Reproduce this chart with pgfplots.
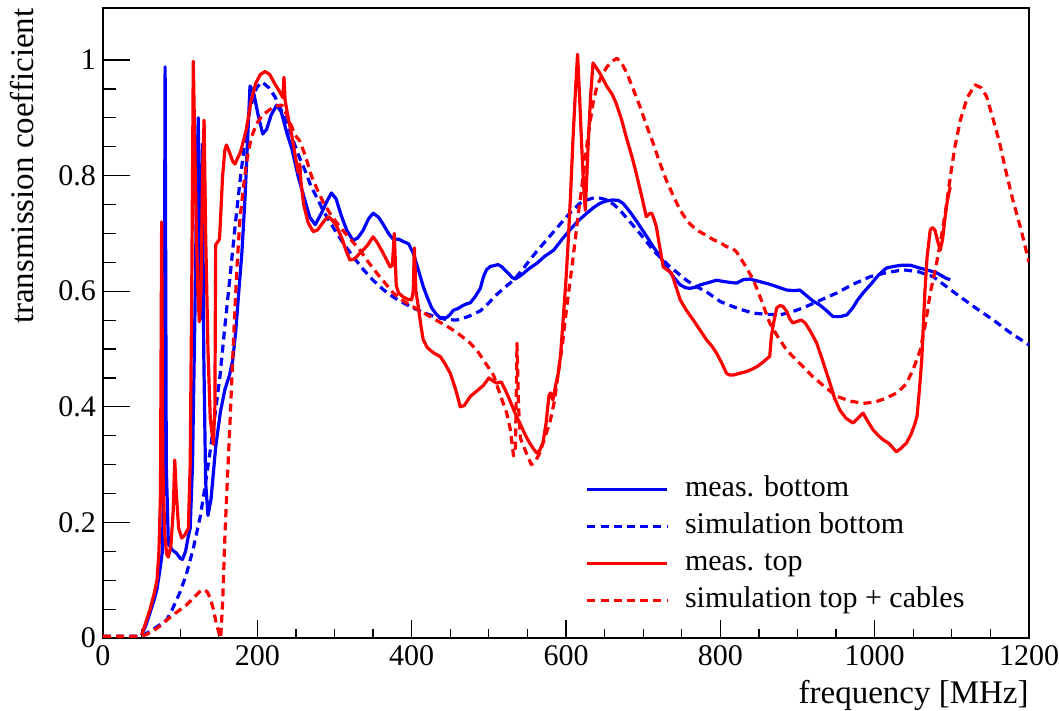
\documentclass[border=0pt]{standalone}
\usepackage{fontspec}
\setmainfont{Liberation Serif}
\usepackage{pgfplots}
\pgfplotsset{compat=1.18}
\begin{document}
\begin{tikzpicture}
\pgfplotsset{
  common/.style={width=463pt,height=315pt,scale only axis,
    xmin=0,xmax=1200,ymin=0,ymax=1.09,
    xtick distance=200, ytick distance=0.2,
    minor x tick num=3, minor y tick num=3,
    tick align=inside, tick pos=left,
    axis line style={line width=0.7pt},
    tick style={black,line width=0.6pt}},
}
\begin{axis}[common, hide x axis, yticklabels={}, major tick length=13.5pt, minor tick length=6.5pt]
\end{axis}
\begin{axis}[common, name=main,
  major tick length=9pt, minor tick length=4.5pt,
  ytick style={draw=none}, major y tick style={draw=none}, minor y tick style={draw=none},
  /pgf/number format/1000 sep={}, /pgf/number format/assume math mode=true,
  tick label style={font=\fontsize{15}{18}\selectfont},
  xlabel={frequency [MHz]}, ylabel={transmission coefficient},
  xlabel style={at={(axis description cs:1,0)}, anchor=base east, yshift=-32.5pt, inner sep=0pt, font=\fontsize{16.5}{19}\selectfont},
  ylabel style={at={(axis description cs:-0.0755,1)}, anchor=base east, inner sep=0pt, font=\fontsize{16.5}{19}\selectfont},
  legend cell align=left,
  legend style={draw=none, fill=none, at={(axis description cs:0.521,0.266)}, anchor=north west, inner sep=0pt,
    font=\fontsize{15}{18}\selectfont, nodes={text height=11pt, text depth=3.5pt, inner sep=2pt}},
  legend image code/.code={\draw[#1] (0pt,0pt) -- (40pt,0pt); \path (46pt,0pt);},
  every axis plot/.append style={line width=1.6pt, line join=round},
]
\addplot[blue] table {
x y
50 0.005
55 0.02
61 0.044
66 0.065
70 0.085
74 0.12
77 0.15
79 0.3
80.5 0.988
82 0.3
84.7 0.163
90 0.152
95 0.147
100 0.138
103 0.136
107 0.15
110 0.172
113 0.19
116 0.3
119 0.55
121.5 0.8
123.5 0.9
125.5 0.55
127.5 0.6
128.8 0.855
130.5 0.5
133 0.27
136 0.212
140 0.24
146 0.33
152 0.39
158 0.43
164 0.455
168 0.48
172 0.53
176 0.6
180 0.667
184 0.76
187 0.85
190.5 0.955
195 0.945
201 0.905
207 0.872
212 0.88
218 0.905
225 0.922
231 0.91
238 0.875
245 0.845
253 0.798
260 0.765
268 0.728
275 0.715
283 0.735
290 0.755
296 0.77
302 0.76
309 0.73
316 0.705
324 0.688
330 0.692
337 0.705
344 0.725
350 0.735
357 0.728
363 0.716
370 0.7
376 0.69
383 0.69
389 0.686
396 0.682
402 0.666
408 0.64
415 0.608
420 0.59
426 0.571
432 0.56
437 0.554
445 0.554
450 0.56
454 0.567
460 0.57
466 0.575
471 0.578
476 0.58
482 0.59
489 0.605
493 0.625
497 0.637
502 0.643
506 0.644
512 0.646
517 0.642
522 0.635
526 0.63
530 0.624
534 0.621
540 0.626
545 0.631
553 0.64
562 0.648
572 0.66
584 0.671
595 0.69
605 0.706
616 0.722
627 0.735
636 0.745
644 0.752
652 0.756
661 0.758
668 0.757
674 0.752
683 0.737
692 0.72
703 0.698
713 0.677
722 0.66
730 0.642
739 0.625
748 0.611
755 0.606
761 0.605
768 0.607
774 0.611
785 0.615
795 0.619
808 0.616
821 0.614
830 0.62
838 0.621
850 0.617
864 0.612
875 0.607
886 0.602
895 0.601
903 0.602
912 0.592
920 0.583
929 0.576
938 0.566
946 0.556
955 0.556
964 0.559
972 0.572
978 0.585
985 0.597
995 0.612
1005 0.628
1015 0.64
1025 0.643
1035 0.645
1046 0.645
1056 0.641
1067 0.637
1080 0.632
1093 0.622
1098 0.62
};
\addlegendentry{meas. bottom}
\addplot[blue, dash pattern=on 4pt off 2.6pt] table {
x y
0 0.003
50 0.003
55 0.007
65 0.015
75 0.024
82.5 0.031
90 0.05
100 0.08
108 0.11
117 0.155
126 0.21
132 0.26
138.7 0.322
145 0.385
151.6 0.453
158 0.54
164.6 0.625
171 0.71
177.5 0.79
184 0.86
190.5 0.916
199 0.952
206 0.962
215 0.952
223 0.936
232 0.91
240 0.885
248 0.855
255 0.83
263 0.805
270 0.78
278 0.76
285 0.74
294 0.72
303 0.70
313 0.68
324 0.66
337 0.638
350 0.619
363 0.603
376 0.59
389 0.58
402 0.571
417 0.562
432 0.555
445 0.551
458 0.55
473 0.556
489 0.566
500 0.58
510 0.594
521 0.607
532 0.619
543 0.636
553 0.654
564 0.672
575 0.689
586 0.706
597 0.723
607 0.738
618 0.752
627 0.758
635 0.761
644 0.761
653 0.758
662 0.75
670 0.74
681 0.723
692 0.706
703 0.688
713 0.671
724 0.656
735 0.642
746 0.63
756 0.619
769 0.608
782 0.599
800 0.582
817 0.573
830 0.567
843 0.562
860 0.56
877 0.559
892 0.564
907 0.571
929 0.584
951 0.597
972 0.612
994 0.625
1015 0.632
1037 0.637
1056 0.634
1076 0.625
1093 0.608
1111 0.59
1132 0.57
1154 0.55
1176 0.528
1200 0.507
};
\addlegendentry{simulation bottom}
\addplot[red] table {
x y
50 0.005
55 0.025
61 0.05
66 0.075
70 0.1
72.5 0.15
74.5 0.25
76 0.72
77.5 0.3
80 0.18
82.5 0.145
84.7 0.14
88 0.16
91 0.22
93 0.308
95 0.25
98 0.19
102 0.173
106 0.178
110.6 0.19
113 0.3
115 0.6
117 0.998
119 0.85
121 0.7
123 0.6
124.8 0.547
127 0.6
129 0.8
131 0.896
133 0.7
136 0.5
139 0.38
143 0.335
145 0.4
146 0.68
151 0.69
155 0.8
158 0.845
160 0.853
164 0.84
168 0.825
171 0.82
175 0.832
178 0.84
182 0.86
186 0.882
192 0.93
198 0.96
204 0.975
210 0.98
216 0.975
223 0.958
229 0.945
233 0.935
234.5 0.97
236 0.93
240 0.9
244.5 0.871
249 0.835
253 0.805
255 0.82
256.5 0.79
260 0.75
266 0.718
272.5 0.703
278 0.706
283 0.715
288 0.724
292 0.729
297 0.723
303 0.712
310 0.69
315 0.67
320 0.654
326 0.656
331 0.663
337 0.671
343 0.68
350 0.694
355 0.685
361 0.671
366 0.658
372 0.642
375 0.645
377.5 0.70
380 0.61
383 0.597
389 0.59
395 0.586
400 0.585
402 0.6
403.5 0.675
405.5 0.6
408.6 0.573
412 0.54
415 0.516
420 0.503
424 0.498
430 0.492
437 0.487
443 0.475
450 0.458
457 0.43
463 0.40
468 0.402
476 0.418
485 0.428
493 0.437
500 0.45
505 0.445
510 0.441
516 0.443
521 0.43
527 0.412
533 0.392
540 0.372
547 0.352
553 0.337
558 0.327
562 0.32
566 0.325
570 0.337
574 0.37
578 0.42
580 0.424
583 0.412
587 0.44
590 0.458
593 0.49
596 0.545
600 0.62
603 0.689
606 0.77
609 0.862
612 0.94
615 1.01
617.5 0.94
620 0.862
622.5 0.79
625 0.74
627 0.8
629 0.862
632 0.94
635 0.995
640 0.985
644 0.977
653 0.954
660 0.94
665 0.925
672 0.897
678 0.867
685 0.835
691 0.804
698 0.765
704 0.729
708 0.734
711 0.735
714 0.725
717 0.712
721 0.68
726 0.642
731 0.637
737 0.631
742 0.61
748 0.585
756 0.567
765 0.55
774 0.532
782 0.516
789 0.505
795 0.493
801 0.478
808 0.458
812 0.455
817 0.455
825 0.458
834 0.461
841 0.465
848 0.47
856 0.478
861 0.484
864 0.487
866 0.52
869 0.545
873 0.571
877 0.575
881 0.574
886 0.565
890 0.552
894 0.545
900 0.548
905 0.55
910 0.545
917 0.53
925 0.51
933 0.478
942 0.441
948 0.415
955 0.394
963 0.38
972 0.372
978 0.38
985 0.389
991 0.375
998 0.36
1005 0.35
1011 0.343
1018 0.337
1023 0.33
1028 0.322
1034 0.328
1041 0.337
1047 0.352
1052 0.37
1055 0.385
1058 0.43
1061 0.481
1063 0.54
1065 0.597
1068 0.66
1072 0.706
1075 0.71
1078 0.706
1082 0.685
1085 0.671
1088 0.69
1091 0.725
1094 0.755
1097 0.775
1098 0.78
};
\addlegendentry{meas. top}
\addplot[red, dash pattern=on 4pt off 2.6pt] table {
x y
0 0.003
50 0.003
56 0.006
65 0.012
75 0.022
82.5 0.031
95 0.044
108 0.057
118 0.07
125 0.08
130 0.084
135 0.08
138.7 0.07
143 0.05
147 0.024
150 0.01
152.5 0.0
155 0.06
158 0.176
161 0.27
164.6 0.374
168 0.48
171 0.572
174 0.65
177.5 0.725
182 0.78
186 0.823
192 0.865
199 0.89
207 0.905
214 0.912
222 0.92
232 0.922
240 0.9
249 0.87
255 0.86
262 0.835
270 0.80
278 0.775
285 0.755
294 0.735
302 0.72
311 0.705
322 0.688
333 0.671
344 0.65
355 0.631
365 0.615
376 0.597
387 0.585
398 0.576
411 0.566
424 0.556
437 0.546
450 0.536
463 0.524
476 0.51
486 0.495
496 0.475
506 0.455
515 0.42
523 0.39
528 0.36
532 0.315
534.5 0.33
536.5 0.51
538.5 0.40
541 0.345
548 0.322
555 0.30
560 0.305
566 0.32
572 0.345
579 0.372
585 0.41
590 0.458
596 0.515
601 0.573
607 0.635
612 0.689
616 0.735
620 0.775
625 0.83
629 0.873
635 0.925
640 0.954
647 0.975
653 0.988
660 0.998
666 1.003
672 0.995
679 0.977
687 0.95
696 0.919
704 0.888
713 0.856
721 0.824
730 0.792
739 0.765
748 0.74
758 0.72
769 0.706
780 0.698
791 0.689
800 0.684
808 0.677
815 0.675
821 0.668
832 0.645
843 0.619
853 0.585
864 0.545
875 0.52
886 0.498
903 0.475
920 0.452
935 0.435
951 0.418
968 0.41
985 0.406
1000 0.408
1015 0.415
1030 0.425
1041 0.44
1050 0.465
1059 0.498
1066 0.545
1072 0.597
1079 0.64
1085 0.683
1092 0.74
1098 0.798
1104 0.85
1111 0.896
1120 0.935
1130 0.957
1138 0.952
1145 0.937
1153 0.9
1162 0.856
1170 0.808
1179 0.758
1190 0.705
1200 0.65
};
\addlegendentry{simulation top + cables}
\end{axis}
\pgfresetboundingbox
\path ([shift={(-51.5pt,-36.5pt)}]main.south west) rectangle ([shift={(15pt,4pt)}]main.north east);
\end{tikzpicture}
\end{document}
